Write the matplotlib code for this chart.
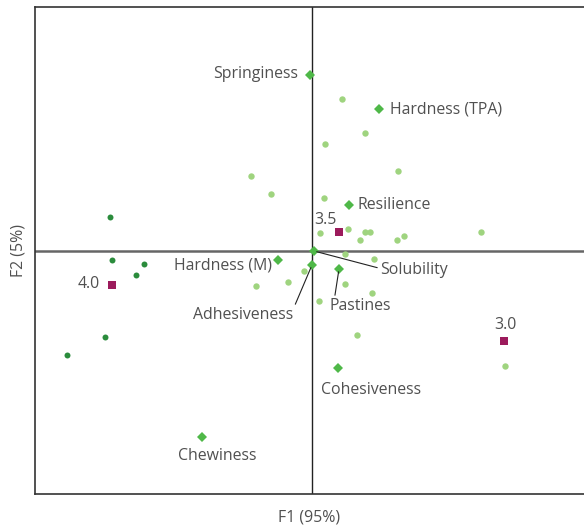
import matplotlib
matplotlib.use("Agg")
import matplotlib.pyplot as plt

# Observations: two groups (F1, F2)
dark_f1 = [-2.02, -2.00, -1.68, -1.76, -2.07, -2.45]
dark_f2 = [0.34, -0.09, -0.13, -0.24, -0.86, -1.04]

light_f1 = [-0.61, -0.41, 0.30, 0.53, 0.13, 0.86, 0.12, 0.08, 0.36, 0.53, 0.58, 0.48,
            0.85, 0.92, 1.69, 0.33, 0.62, -0.08, -0.24, -0.56, 0.33, 0.60, 0.07, 0.45, 1.93]
light_f2 = [0.75, 0.57, 1.52, 1.18, 1.07, 0.80, 0.53, 0.18, 0.22, 0.19, 0.19, 0.11,
            0.11, 0.15, 0.19, -0.03, -0.08, -0.20, -0.31, -0.35, -0.33, -0.42, -0.50, -0.84, -1.15]

# Group centroids
group_labels = ["3.5", "4.0", "3.0"]
group_f1 = [0.27, -2.00, 1.92]
group_f2 = [0.19, -0.34, -0.90]

# Variables
var_labels = ["Springiness", "Hardness (TPA)", "Resilience", "Solubility", "Adhesiveness",
              "Pastines", "Hardness (M)", "Cohesiveness", "Chewiness"]
var_f1 = [-0.02, 0.67, 0.37, 0.02, 0.00, 0.27, -0.34, 0.26, -1.10]
var_f2 = [1.76, 1.42, 0.46, 0.00, -0.14, -0.18, -0.09, -1.17, -1.86]

plt.rcParams['font.family'] = ['Open Sans', 'DejaVu Sans']
TXT = '#505050'
FS = 11.4

fig = plt.figure(figsize=(5.84, 5.26), dpi=100)
ax = fig.add_axes([35/584, 32/526, 549/584, 487/526])
ax.set_xlim(-2.77, 2.72)
ax.set_ylim(-2.43, 2.44)

ax.axhline(0, color='#666666', lw=1.8, zorder=1)
ax.axvline(0, color='#222222', lw=1.0, zorder=1)

ax.plot(dark_f1, dark_f2, 'o', color='#2b8c3c', ms=4.3, mew=0, zorder=3)
ax.plot(light_f1, light_f2, 'o', color='#9fd47f', ms=4.6, mew=0, zorder=3)
ax.plot(var_f1, var_f2, 'D', color='#4fb848', ms=5.2, mew=0, zorder=4)
ax.plot(group_f1, group_f2, 's', color='#9c1b5c', ms=6.0, mew=0, zorder=4)

# label placements (offset pixels, alignment, leader line relpos)
var_style = {
    "Springiness": ((-12, 1), 'right', None),
    "Hardness (TPA)": ((11, 0), 'left', None),
    "Resilience": ((9, 0), 'left', None),
    "Solubility": ((66, -19), 'left', (0, 0.6)),
    "Adhesiveness": ((-69, -50), 'center', (1, 0.85)),
    "Pastines": ((21, -37), 'center', (0.08, 0.85)),
    "Hardness (M)": ((-6, -5), 'right', None),
    "Cohesiveness": ((33, -22), 'center', None),
    "Chewiness": ((15, -19), 'center', None),
}
for lab, x, y in zip(var_labels, var_f1, var_f2):
    off, ha, rel = var_style[lab]
    kw = {}
    if rel is not None:
        kw['arrowprops'] = dict(arrowstyle='-', color='#222222', lw=0.8,
                                shrinkA=0, shrinkB=2, relpos=rel)
    ax.annotate(lab, (x, y), xytext=off, textcoords='offset pixels',
                ha=ha, va='center', fontsize=FS, color=TXT, zorder=5, **kw)

grp_style = {"3.5": ((-14, 12), 'center'), "4.0": ((-12, 1), 'right'), "3.0": ((1, 16), 'center')}
for lab, x, y in zip(group_labels, group_f1, group_f2):
    off, ha = grp_style[lab]
    ax.annotate(lab, (x, y), xytext=off, textcoords='offset pixels',
                ha=ha, va='center', fontsize=FS, color=TXT, zorder=5)

ax.set_xticks([])
ax.set_yticks([])
for s in ['left', 'top', 'bottom']:
    ax.spines[s].set_color('#333333')
    ax.spines[s].set_linewidth(1.2)
ax.spines['right'].set_visible(False)

ax.set_xlabel('F1 (95%)', fontsize=FS, color=TXT, labelpad=11)
ax.set_ylabel('F2 (5%)', fontsize=FS, color=TXT, labelpad=6)

fig.savefig('out.png', dpi=100)
